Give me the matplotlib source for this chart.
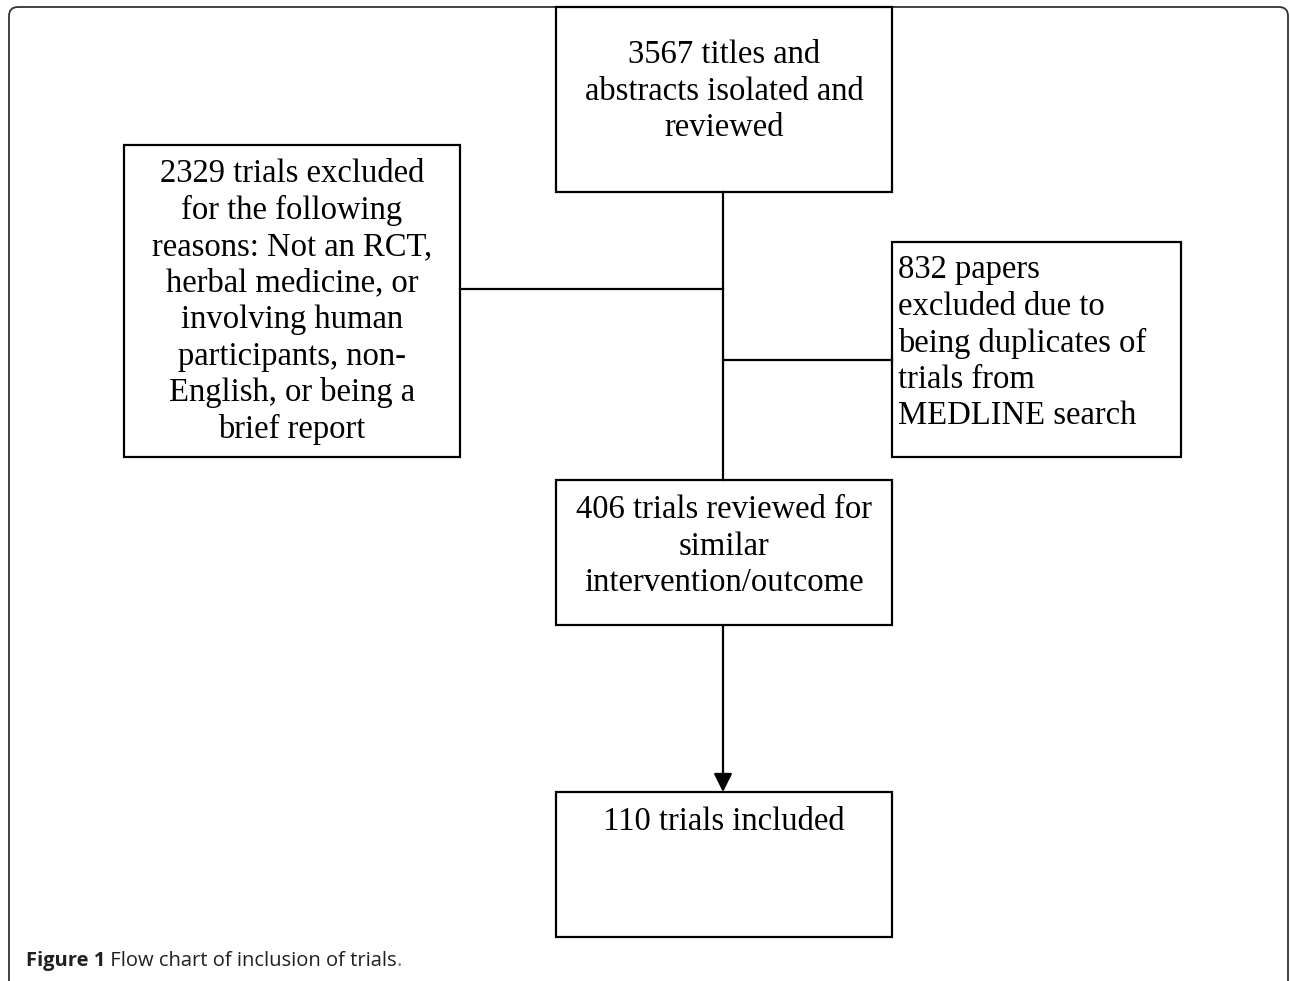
import matplotlib.pyplot as plt
from matplotlib.patches import Rectangle, FancyBboxPatch

# box texts, one list of lines per box
box_names = ['screened', 'excluded_reasons', 'duplicates', 'reviewed', 'included']
box_lines = {
    'screened': ['3567 titles and', 'abstracts isolated and', 'reviewed'],
    'excluded_reasons': ['2329 trials excluded', 'for the following', 'reasons: Not an RCT,',
                         'herbal medicine, or', 'involving human', 'participants, non-',
                         'English, or being a', 'brief report'],
    'duplicates': ['832 papers', 'excluded due to', 'being duplicates of',
                   'trials from', 'MEDLINE search'],
    'reviewed': ['406 trials reviewed for', 'similar', 'intervention/outcome'],
    'included': ['110 trials included'],
}
caption_bold = 'Figure 1'
caption_rest = ' Flow chart of inclusion of trials'

# layout in pixels (x0, y0, x1, y1), y measured from top
box_pos = {
    'screened': (556, 7, 892, 192),
    'excluded_reasons': (124, 145, 460, 457),
    'duplicates': (892, 242, 1181, 457),
    'reviewed': (556, 480, 892, 625),
    'included': (556, 792, 892, 937),
}
first_line = {'screened': 55, 'excluded_reasons': 174, 'duplicates': 270,
              'reviewed': 510, 'included': 822}
line_step = 36.5
left_aligned = {'duplicates'}
fsize = 23.5

fig = plt.figure(figsize=(12.9, 9.81), dpi=100)
ax = fig.add_axes([0, 0, 1, 1])
ax.set_xlim(0, 1290)
ax.set_ylim(981, 0)
ax.axis('off')

# outer rounded frame
frame = FancyBboxPatch((9, 7), 1279, 990, boxstyle='round,pad=0,rounding_size=9',
                       fill=False, edgecolor='#333333', linewidth=1.3, clip_on=False)
ax.add_patch(frame)

lw = 1.6
for name in box_names:
    x0, y0, x1, y1 = box_pos[name]
    ax.add_patch(Rectangle((x0, y0), x1 - x0, y1 - y0, fill=False,
                           edgecolor='black', linewidth=lw))
    for i, line in enumerate(box_lines[name]):
        y = first_line[name] + i * line_step
        if name in left_aligned:
            ax.text(x0 + 6, y, line, ha='left', va='center',
                    family='Liberation Serif', fontsize=fsize)
        else:
            ax.text((x0 + x1) / 2, y, line, ha='center', va='center',
                    family='Liberation Serif', fontsize=fsize)

# connectors
cx = 723
ax.plot([cx, cx], [192, 480], color='black', linewidth=lw)
ax.plot([460, cx], [289, 289], color='black', linewidth=lw)
ax.plot([cx, 892], [360, 360], color='black', linewidth=lw)
ax.annotate('', xy=(cx, 792), xytext=(cx, 625),
            arrowprops=dict(arrowstyle='-|>', color='black', linewidth=lw,
                            mutation_scale=28, shrinkA=0, shrinkB=0))

# caption
t1 = ax.text(26, 966, caption_bold, ha='left', va='baseline', family='Open Sans',
             fontweight='bold', fontsize=14.5, color='#231f20')
t2 = ax.annotate(caption_rest, xy=(1, 0), xycoords=t1, ha='left', va='bottom',
                 family='Open Sans', fontsize=14.5, color='#231f20')
ax.annotate('.', xy=(1, 0), xycoords=t2, ha='left', va='bottom',
            family='Open Sans', fontsize=14.5, color='#777777')

fig.savefig('out.png', dpi=100, facecolor='white')
